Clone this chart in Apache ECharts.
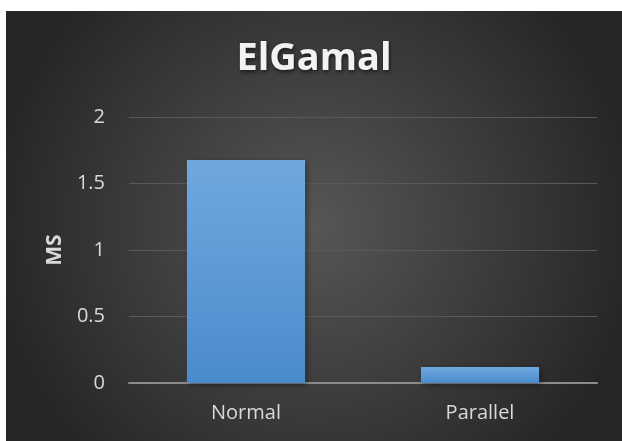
<!DOCTYPE html>
<html>
<head>
<meta charset="utf-8">
<script src="https://cdn.jsdelivr.net/npm/echarts@6/dist/echarts.min.js"></script>
<style>
  html, body { margin: 0; padding: 0; background: #fff; }
  #chart { position: absolute; left: 6px; top: 11px; width: 616px; height: 430px; }
</style>
</head>
<body>
<div id="chart"></div>
<script>
const categories = ['Normal', 'Parallel']
const values = [1.677, 0.12]
const yTicks = [0, 0.5, 1, 1.5, 2]

const chart = echarts.init(document.getElementById('chart'))

const option = {
  backgroundColor: new echarts.graphic.RadialGradient(0.5, 0.5, 0.75, [
    { offset: 0, color: '#565656' },
    { offset: 1, color: '#262626' }
  ]),
  animation: false,
  title: {
    text: 'ElGamal',
    left: 'center',
    top: 24,
    textStyle: {
      color: '#f2f2f2',
      fontSize: 38,
      fontWeight: 'bold',
      fontFamily: 'Open Sans',
      textShadowColor: 'rgba(0,0,0,0.6)',
      textShadowBlur: 4,
      textShadowOffsetX: 1,
      textShadowOffsetY: 2
    }
  },
  grid: { left: 123, right: 25, top: 106, bottom: 58 },
  xAxis: {
    type: 'category',
    data: categories,
    axisLine: { lineStyle: { color: '#8c8c8c', width: 2 } },
    axisTick: { show: false },
    axisLabel: { color: '#d9d9d9', fontSize: 20, fontFamily: 'Open Sans', margin: 20 }
  },
  yAxis: {
    type: 'value',
    min: yTicks[0],
    max: yTicks[yTicks.length - 1],
    interval: 0.5,
    name: 'MS',
    nameLocation: 'middle',
    nameGap: 62,
    nameTextStyle: { color: '#d9d9d9', fontSize: 21, fontWeight: 'bold', fontFamily: 'Open Sans' },
    axisLine: { show: false },
    axisTick: { show: false },
    splitLine: { lineStyle: { color: '#595959', width: 1 } },
    axisLabel: { color: '#d9d9d9', fontSize: 20, fontFamily: 'Open Sans', margin: 24 }
  },
  series: [
    {
      type: 'bar',
      data: values,
      barWidth: '50.5%',
      itemStyle: {
        color: new echarts.graphic.LinearGradient(0, 0, 0, 1, [
          { offset: 0, color: '#70a8de' },
          { offset: 1, color: '#4a8bcd' }
        ]),
        shadowColor: 'rgba(0,0,0,0.4)',
        shadowBlur: 6,
        shadowOffsetX: 2,
        shadowOffsetY: 2
      }
    }
  ]
}

chart.setOption(option)
</script>
</body>
</html>
